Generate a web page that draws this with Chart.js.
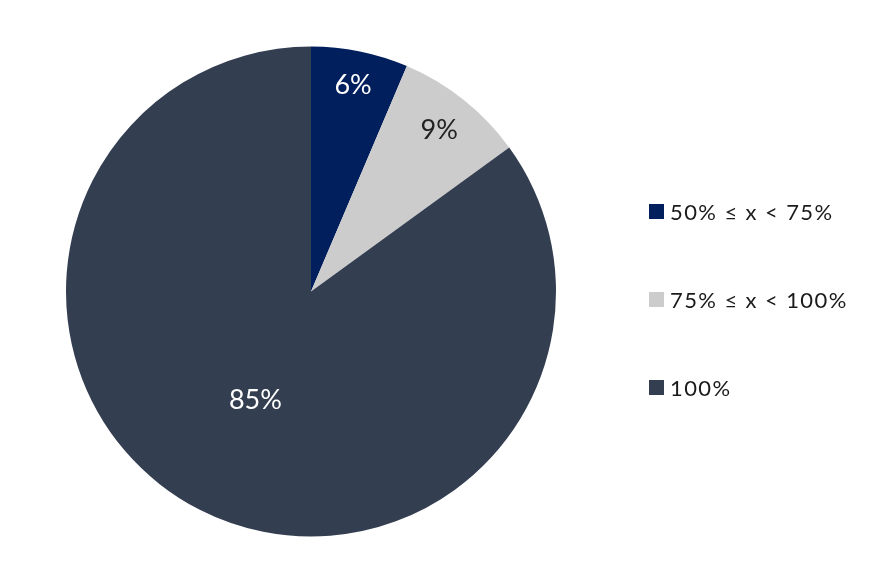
<!DOCTYPE html>
<html>
<head>
<meta charset="utf-8">
<script src="https://cdn.jsdelivr.net/npm/chart.js@4"></script>
<style>
  html, body { margin: 0; padding: 0; background: #fff; }
  #wrap { position: relative; width: 894px; height: 580px; }
  #legend { position: absolute; left: 649px; top: 0; font-family: Lato, "Noto Sans", sans-serif; font-size: 22px; letter-spacing: 1.4px; color: #1a1a1a; }
  .item { position: absolute; left: 0; white-space: nowrap; display: flex; align-items: center; height: 24px; }
  .box { width: 15px; height: 15px; margin-right: 6px; }
</style>
</head>
<body>
<div id="wrap">
  <canvas id="c" width="894" height="580"></canvas>
  <div id="legend"></div>
</div>
<script>
const categories = ["50% ≤ x < 75%", "75% ≤ x < 100%", "100%"];
const values = [6.4, 8.6, 85];
const valueLabels = ["6%", "9%", "85%"];
const colors = ["#001f5c", "#cccccc", "#333e50"];
const labelColors = ["#ffffff", "#222222", "#ffffff"];
const labelRadius = [0.86, 0.84, 0.5];

const sliceLabels = {
  id: 'sliceLabels',
  afterDatasetsDraw(chart) {
    const ctx = chart.ctx;
    const meta = chart.getDatasetMeta(0);
    ctx.save();
    ctx.font = '27px Lato, "Noto Sans", sans-serif';
    ctx.textAlign = 'center';
    ctx.textBaseline = 'middle';
    meta.data.forEach((arc, i) => {
      const p = arc.getProps(['x','y','startAngle','endAngle','outerRadius'], true);
      const a = (p.startAngle + p.endAngle) / 2;
      const r = p.outerRadius * labelRadius[i];
      ctx.fillStyle = labelColors[i];
      ctx.fillText(valueLabels[i], p.x + Math.cos(a) * r, p.y + Math.sin(a) * r);
    });
    ctx.restore();
  }
};

new Chart(document.getElementById('c'), {
  type: 'pie',
  data: {
    labels: categories,
    datasets: [{ data: values, backgroundColor: colors, borderWidth: 0 }]
  },
  options: {
    responsive: false,
    animation: false,
    layout: { padding: { top: 46, bottom: 43, left: 66, right: 338 } },
    plugins: { legend: { display: false }, tooltip: { enabled: false } }
  },
  plugins: [sliceLabels]
});

const legend = document.getElementById('legend');
const rowY = [199, 287, 375];
categories.forEach((c, i) => {
  const d = document.createElement('div');
  d.className = 'item';
  d.style.top = rowY[i] + 'px';
  d.innerHTML = '<span class="box" style="background:' + colors[i] + '"></span><span>' + c + '</span>';
  legend.appendChild(d);
});
</script>
</body>
</html>
